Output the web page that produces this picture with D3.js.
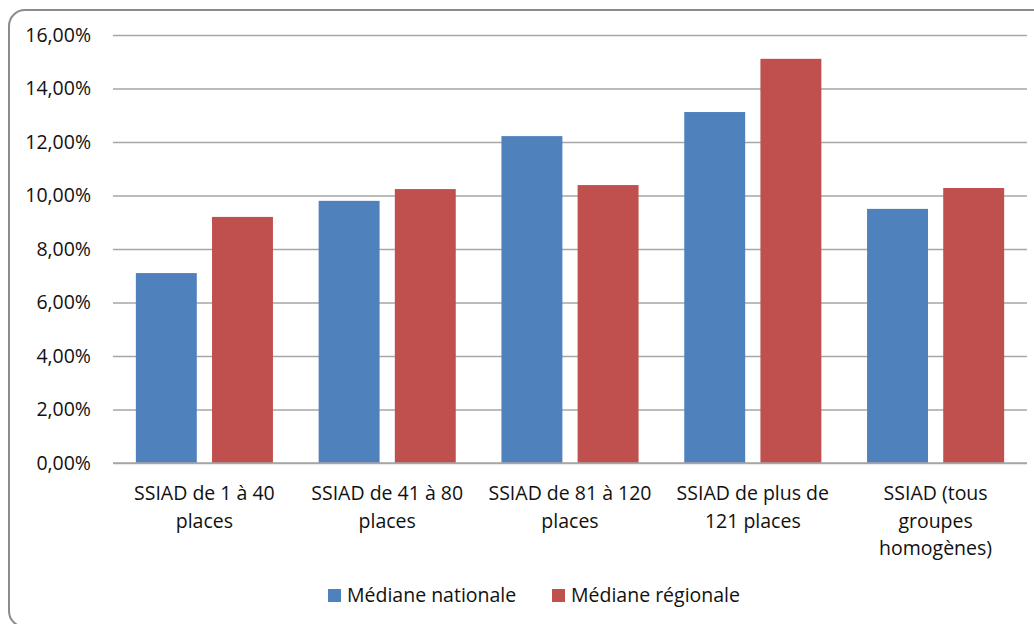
<!DOCTYPE html>
<html>
<head>
<meta charset="utf-8">
<script src="https://d3js.org/d3.v7.min.js"></script>
<style>
  body { margin: 0; background: #fff; font-family: "Open Sans", Arial, sans-serif; }
  svg { display: block; }
</style>
</head>
<body>
<svg id="chart" width="1034" height="624"></svg>
<script>
// data
const categories = ["1-40", "41-80", "81-120", "121+", "tous"];
const categoryLabels = [
  ["SSIAD de 1 à 40", "places"],
  ["SSIAD de 41 à 80", "places"],
  ["SSIAD de 81 à 120", "places"],
  ["SSIAD de plus de", "121 places"],
  ["SSIAD (tous", "groupes", "homogènes)"]
];
const seriesNames = ["Médiane nationale", "Médiane régionale"];
const nationale = [0.0710, 0.0980, 0.1222, 0.1312, 0.0950];
const regionale = [0.0920, 0.1024, 0.1039, 0.1511, 0.1028];
const yTicks = [0, 0.02, 0.04, 0.06, 0.08, 0.10, 0.12, 0.14, 0.16];
const colors = ["#4F81BD", "#C0504D"];

const svg = d3.select("#chart");

// outer frame
svg.append("rect")
  .attr("x", 9).attr("y", 10)
  .attr("width", 1040).attr("height", 617)
  .attr("rx", 16)
  .attr("fill", "none")
  .attr("stroke", "#8c8c8c")
  .attr("stroke-width", 2);

const plotL = 113, plotR = 1027, plotT = 35, plotB = 463;

const x = d3.scaleBand().domain(categories).range([plotL, plotR]).paddingInner(0).paddingOuter(0);
const xs = d3.scaleBand().domain([0, 1]).range([0, x.bandwidth()]).paddingInner(0.2).paddingOuter(0.3);
const y = d3.scaleLinear().domain([0, 0.16]).range([plotB, plotT]);

const fmt = d => d3.format(".2f")(d * 100).replace(".", ",") + "%";

// gridlines + y axis
const yAxis = svg.append("g")
  .attr("transform", `translate(${plotL},0)`)
  .call(d3.axisLeft(y).tickValues(yTicks).tickFormat(fmt).tickSize(-(plotR - plotL)).tickPadding(22));
yAxis.select(".domain").remove();
yAxis.selectAll(".tick line").attr("stroke", "#a6a6a6").attr("stroke-width", 1.5);
yAxis.selectAll(".tick text")
  .attr("fill", "#111")
  .style("font-family", "'Open Sans', sans-serif")
  .style("font-size", "19.5px");

// bars
const groups = svg.append("g").selectAll("g")
  .data(categories)
  .join("g")
  .attr("transform", d => `translate(${x(d)},0)`);

groups.selectAll("rect")
  .data((d, i) => [nationale[i], regionale[i]])
  .join("rect")
  .attr("x", (d, j) => xs(j))
  .attr("width", xs.bandwidth())
  .attr("y", d => y(d))
  .attr("height", d => y(0) - y(d))
  .attr("fill", (d, j) => colors[j]);

// baseline
svg.append("line")
  .attr("x1", plotL).attr("x2", plotR)
  .attr("y1", plotB).attr("y2", plotB)
  .attr("stroke", "#a6a6a6").attr("stroke-width", 1.5);

// category labels
const labels = svg.append("g").selectAll("text")
  .data(categories)
  .join("text")
  .attr("text-anchor", "middle")
  .attr("fill", "#111")
  .style("font-size", "19.5px");
labels.each(function (d, i) {
  const t = d3.select(this);
  categoryLabels[i].forEach((line, k) => {
    t.append("tspan")
      .attr("x", x(d) + x.bandwidth() / 2)
      .attr("y", 500 + k * 27.5)
      .text(line);
  });
});

// legend
const legendX = [328, 552];
const legend = svg.append("g").selectAll("g")
  .data(seriesNames)
  .join("g")
  .attr("transform", (d, i) => `translate(${legendX[i]},589)`);
legend.append("rect")
  .attr("width", 13).attr("height", 13)
  .attr("fill", (d, i) => colors[i]);
legend.append("text")
  .attr("x", 19).attr("y", 13)
  .attr("fill", "#111")
  .style("font-size", "19.5px")
  .text(d => d);
</script>
</body>
</html>
